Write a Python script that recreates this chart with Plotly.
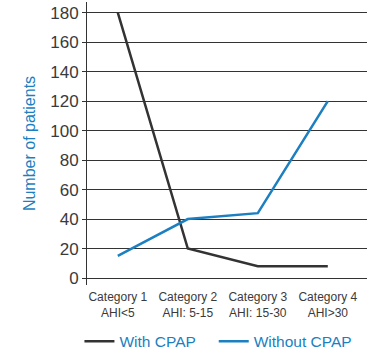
import plotly.graph_objects as go

categories = ["Category 1<br>AHI<5", "Category 2<br>AHI: 5-15", "Category 3<br>AHI: 15-30", "Category 4<br>AHI>30"]
series_names = ["With CPAP", "Without CPAP"]
with_cpap = [180, 20, 8, 8]
without_cpap = [15, 40, 44, 120]
y_ticks = [0, 20, 40, 60, 80, 100, 120, 140, 160, 180]

FONT = "Liberation Sans, Arial, sans-serif"
BLUE = "#1b7fc1"
DARK = "#333333"

x_idx = list(range(len(categories)))

fig = go.Figure()
fig.add_trace(go.Scatter(x=x_idx, y=with_cpap, mode="lines", name=series_names[0] + "\u00a0\u00a0\u00a0",
                         line=dict(color=DARK, width=2.5)))
fig.add_trace(go.Scatter(x=x_idx, y=without_cpap, mode="lines", name=series_names[1],
                         line=dict(color=BLUE, width=2.5)))

fig.update_layout(
    width=371, height=361,
    margin=dict(l=87, r=4, t=2, b=76, autoexpand=False),
    paper_bgcolor="white", plot_bgcolor="white",
    font=dict(family=FONT, color="#3a3a3a"),
    showlegend=True,
    legend=dict(orientation="h", x=-0.027, y=-0.14, xanchor="left", yanchor="top",
                font=dict(size=15.5, color=BLUE, family=FONT), itemwidth=30,
                tracegroupgap=0, bgcolor="rgba(0,0,0,0)"),
    xaxis=dict(range=[-0.44, 3.56], tickmode="array", tickvals=x_idx, ticktext=categories,
               showgrid=False, zeroline=False, showline=False, ticks="", automargin=False,
               ticklabelstandoff=3,
               tickfont=dict(size=12, color="#3a3a3a")),
    yaxis=dict(range=[-4.7, 187.2], tickmode="array", tickvals=y_ticks, automargin=False,
               showgrid=True, gridcolor=DARK, gridwidth=1, zeroline=False,
               showline=True, linecolor=DARK, linewidth=1,
               ticks="outside", ticklen=4, tickcolor=DARK,
               tickfont=dict(size=17, color="#3a3a3a"),
               title=dict(text="Number of patients", font=dict(size=16, color=BLUE), standoff=10)),
)

fig.write_html("out.html", config={"displayModeBar": False},
               post_script="document.body.style.margin='0';document.body.style.overflow='hidden';")
